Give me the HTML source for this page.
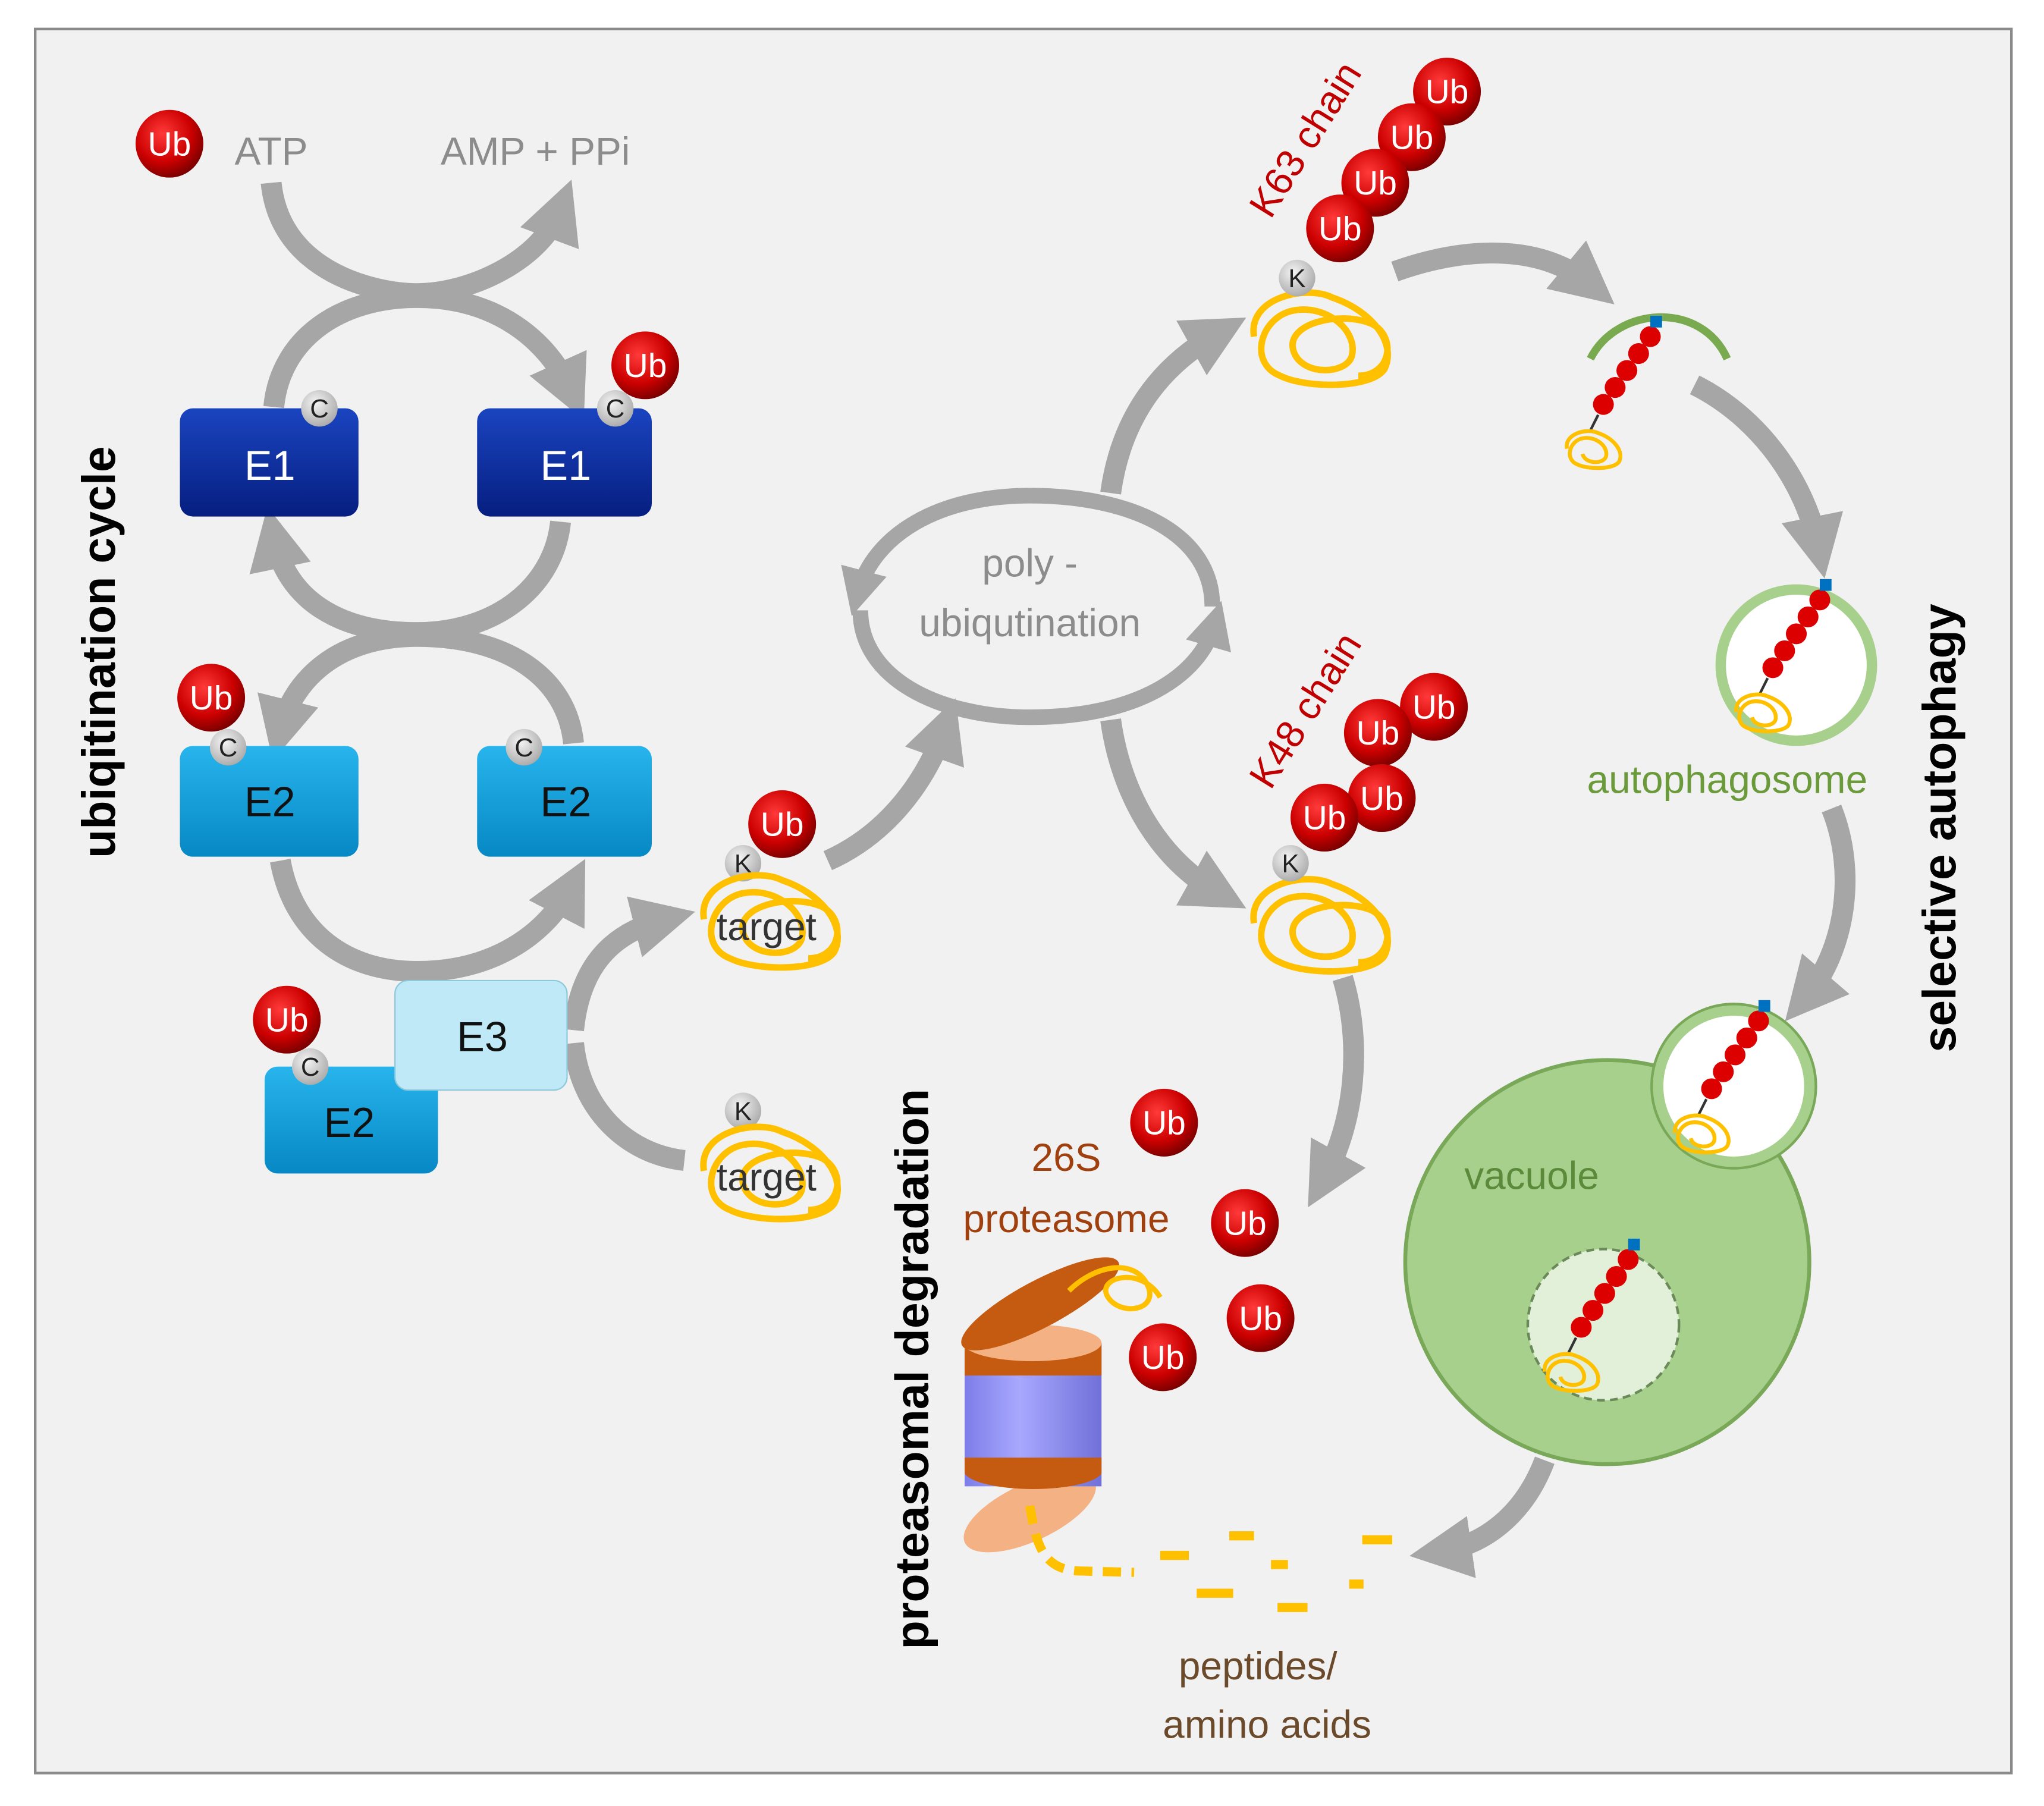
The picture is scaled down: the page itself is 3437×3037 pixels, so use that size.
<!DOCTYPE html>
<html><head><meta charset="utf-8"><style>
html,body{margin:0;padding:0;background:#fff;}
svg{display:block;}
text{font-family:"Liberation Sans","DejaVu Sans",sans-serif;}
</style></head><body>
<svg width="3437" height="3037" viewBox="0 0 1568 1385" xmlns="http://www.w3.org/2000/svg">
<defs>
<radialGradient id="ub" cx="0.4" cy="0.35" r="0.7"><stop offset="0" stop-color="#ff3a3a"/><stop offset="0.6" stop-color="#cc0000"/><stop offset="1" stop-color="#700000"/></radialGradient>
<radialGradient id="cg" cx="0.4" cy="0.35" r="0.7"><stop offset="0" stop-color="#f4f4f4"/><stop offset="1" stop-color="#a8a8a8"/></radialGradient>
<linearGradient id="e1" x1="0" y1="0" x2="0" y2="1"><stop offset="0" stop-color="#1a44c0"/><stop offset="1" stop-color="#061e80"/></linearGradient>
<linearGradient id="e2" x1="0" y1="0" x2="0" y2="1"><stop offset="0" stop-color="#28b4ec"/><stop offset="1" stop-color="#0688c4"/></linearGradient>
<linearGradient id="cyl" x1="0" y1="0" x2="1" y2="0"><stop offset="0" stop-color="#7d7de8"/><stop offset="0.4" stop-color="#a8a8ff"/><stop offset="1" stop-color="#7070d8"/></linearGradient>
<marker id="ah" viewBox="0 0 10 10" refX="5" refY="5" markerWidth="3" markerHeight="3" orient="auto"><path d="M0,0 L10,5 L0,10 z" fill="#a6a6a6"/></marker>
<g id="ubb"><circle r="26" fill="url(#ub)"/></g>
<g id="tgt" fill="none" stroke="#ffc000" stroke-width="5">
<path d="M-50,0 C-55,-30 -10,-40 10,-30 C40,-20 60,5 50,25 C40,40 -10,40 -30,30 C-55,20 -45,-15 -20,-20 C5,-25 30,-5 25,15 C20,30 -15,30 -20,10 C-25,-10 15,-20 40,-10 C60,0 55,30 30,30"/></g>
<g id="tgts" fill="none" stroke="#ffc000" stroke-width="3">
<path d="M-20,0 C-22,-12 -4,-16 4,-12 C16,-8 24,2 20,10 C16,16 -4,16 -12,12 C-22,8 -18,-6 -8,-8 C2,-10 12,-2 10,6 C8,12 -6,12 -8,4"/></g>
<g id="chain"><circle cx="0" cy="0" r="8" fill="#d00"/><circle cx="9" cy="-13" r="8" fill="#d00"/><circle cx="18" cy="-26" r="8" fill="#d00"/><circle cx="27" cy="-39" r="8" fill="#d00"/><circle cx="36" cy="-52" r="8" fill="#d00"/><rect x="36" y="-68" width="9" height="9" fill="#0070c0"/><line x1="-4" y1="8" x2="-10" y2="20" stroke="#333" stroke-width="2"/><use href="#tgts" x="-8" y="34"/></g>
</defs>
<rect x="27" y="22" width="1516" height="1338" fill="#f1f1f1" stroke="#8a8a8a" stroke-width="2"/>

<!-- ubiquitination cycle arrows -->
<g fill="none" stroke="#a6a6a6" stroke-width="16">
<path d="M208,140 C215,210 290,225 320,225 C360,225 415,200 430,160" marker-end="url(#ah)"/>
<path d="M210,312 C215,260 260,228 320,228 C380,228 420,260 438,300" marker-end="url(#ah)"/>
<path d="M430,400 C425,450 380,485 320,485 C260,485 220,460 210,412" marker-end="url(#ah)"/>
<path d="M440,570 C435,520 390,488 320,488 C260,488 225,520 215,560" marker-end="url(#ah)"/>
<path d="M215,660 C225,715 265,745 320,745 C380,745 420,715 438,680" marker-end="url(#ah)"/>
<path d="M440,790 C445,740 470,715 510,705" marker-end="url(#ah)"/>
<path d="M440,800 C445,850 480,885 525,890"/>
<path d="M635,660 C680,640 710,600 725,558" marker-end="url(#ah)"/>
<path d="M852,378 C860,320 890,280 935,255" marker-end="url(#ah)"/>
<path d="M852,552 C860,610 890,660 935,685" marker-end="url(#ah)"/>
<path d="M1070,208 C1120,190 1180,185 1220,218" marker-end="url(#ah)"/>
<path d="M1300,295 C1350,320 1385,370 1395,420" marker-end="url(#ah)"/>
<path d="M1405,620 C1425,670 1415,730 1385,765" marker-end="url(#ah)"/>
<path d="M1030,750 C1045,800 1040,860 1015,905" marker-end="url(#ah)"/>
<path d="M1185,1120 C1170,1160 1140,1185 1105,1190" marker-end="url(#ah)"/>
</g>
<!-- poly ring -->
<g fill="none" stroke="#a6a6a6" stroke-width="12">
<path d="M930,465 C930,410 870,380 790,380 C720,380 670,410 658,455" marker-end="url(#ah)"/>
<path d="M660,468 C660,520 720,550 790,550 C870,550 920,520 932,478" marker-end="url(#ah)"/>
</g>

<text x="180" y="126" font-size="30" fill="#8c8c8c">ATP</text>
<text x="338" y="126" font-size="30" fill="#8c8c8c">AMP + PPi</text>

<!-- enzymes -->
<rect x="138" y="313" width="137" height="83" rx="10" fill="url(#e1)"/>
<rect x="366" y="313" width="134" height="83" rx="10" fill="url(#e1)"/>
<text x="207" y="368" font-size="32" fill="#fff" text-anchor="middle">E1</text>
<text x="434" y="368" font-size="32" fill="#fff" text-anchor="middle">E1</text>
<rect x="138" y="572" width="137" height="85" rx="10" fill="url(#e2)"/>
<rect x="366" y="572" width="134" height="85" rx="10" fill="url(#e2)"/>
<text x="207" y="626" font-size="32" fill="#111" text-anchor="middle">E2</text>
<text x="434" y="626" font-size="32" fill="#111" text-anchor="middle">E2</text>
<rect x="203" y="818" width="133" height="82" rx="10" fill="url(#e2)"/>
<rect x="303" y="752" width="132" height="84" rx="10" fill="#bfe9f7" stroke="#8cc8dc"/>
<text x="370" y="806" font-size="32" fill="#111" text-anchor="middle">E3</text>
<text x="268" y="872" font-size="32" fill="#111" text-anchor="middle">E2</text>

<!-- C circles -->
<g font-size="20" fill="#222" text-anchor="middle">
<circle cx="245" cy="313" r="14" fill="url(#cg)"/><text x="245" y="320">C</text>
<circle cx="472" cy="313" r="14" fill="url(#cg)"/><text x="472" y="320">C</text>
<circle cx="175" cy="573" r="14" fill="url(#cg)"/><text x="175" y="580">C</text>
<circle cx="402" cy="573" r="14" fill="url(#cg)"/><text x="402" y="580">C</text>
<circle cx="238" cy="818" r="14" fill="url(#cg)"/><text x="238" y="825">C</text>
<circle cx="570" cy="662" r="14" fill="url(#cg)"/><text x="570" y="669">K</text>
<circle cx="570" cy="852" r="14" fill="url(#cg)"/><text x="570" y="859">K</text>
</g>

<!-- targets -->
<use href="#tgt" x="590" y="705"/>
<use href="#tgt" x="590" y="898"/>
<use href="#tgt" x="1012" y="258"/>
<use href="#tgt" x="1012" y="708"/>
<text x="588" y="721" font-size="30" fill="#333" text-anchor="middle">target</text>
<text x="588" y="913" font-size="30" fill="#333" text-anchor="middle">target</text>
<g font-size="20" fill="#222" text-anchor="middle">
<circle cx="995" cy="213" r="14" fill="url(#cg)"/><text x="995" y="220">K</text>
<circle cx="990" cy="662" r="14" fill="url(#cg)"/><text x="990" y="669">K</text>
</g>

<!-- Ub balls -->
<g font-size="26" fill="#fff" text-anchor="middle">
<use href="#ubb" x="130" y="110"/><text x="130" y="119">Ub</text>
<use href="#ubb" x="495" y="280"/><text x="495" y="289">Ub</text>
<use href="#ubb" x="162" y="535"/><text x="162" y="544">Ub</text>
<use href="#ubb" x="220" y="782"/><text x="220" y="791">Ub</text>
<use href="#ubb" x="600" y="632"/><text x="600" y="641">Ub</text>
<use href="#ubb" x="1110" y="70"/><text x="1110" y="79">Ub</text>
<use href="#ubb" x="1083" y="105"/><text x="1083" y="114">Ub</text>
<use href="#ubb" x="1055" y="140"/><text x="1055" y="149">Ub</text>
<use href="#ubb" x="1028" y="175"/><text x="1028" y="184">Ub</text>
<use href="#ubb" x="1100" y="542"/><text x="1100" y="551">Ub</text>
<use href="#ubb" x="1057" y="562"/><text x="1057" y="571">Ub</text>
<use href="#ubb" x="1060" y="612"/><text x="1060" y="621">Ub</text>
<use href="#ubb" x="1016" y="627"/><text x="1016" y="636">Ub</text>
<use href="#ubb" x="893" y="861"/><text x="893" y="870">Ub</text>
<use href="#ubb" x="955" y="938"/><text x="955" y="947">Ub</text>
<use href="#ubb" x="967" y="1011"/><text x="967" y="1020">Ub</text>
<use href="#ubb" x="892" y="1041"/><text x="892" y="1050">Ub</text>
</g>
<text x="1010" y="112" font-size="30" fill="#c00000" text-anchor="middle" transform="rotate(-58 1010 112)">K63 chain</text>
<text x="1010" y="550" font-size="30" fill="#c00000" text-anchor="middle" transform="rotate(-58 1010 550)">K48 chain</text>

<text x="790" y="442" font-size="30" fill="#8c8c8c" text-anchor="middle">poly -</text>
<text x="790" y="488" font-size="30" fill="#8c8c8c" text-anchor="middle">ubiqutination</text>

<!-- autophagy -->
<path d="M1220,275 C1240,235 1305,230 1325,275" fill="none" stroke="#7aaa50" stroke-width="6"/>
<use href="#chain" x="1230" y="310"/>
<circle cx="1378" cy="510" r="62" fill="#a8d08d"/>
<circle cx="1378" cy="510" r="54" fill="#fff"/>
<use href="#chain" x="1360" y="512"/>
<text x="1325" y="608" font-size="30" fill="#6a9a3a" text-anchor="middle">autophagosome</text>
<circle cx="1233" cy="968" r="155" fill="#a8d08d" stroke="#78a858" stroke-width="3"/>
<circle cx="1330" cy="833" r="63" fill="#a8d08d" stroke="#78a858" stroke-width="2"/>
<circle cx="1330" cy="833" r="54" fill="#fff"/>
<use href="#chain" x="1313" y="835"/>
<circle cx="1230" cy="1016" r="58" fill="#e2efd9" stroke="#6a8a5a" stroke-width="2" stroke-dasharray="6,4"/>
<use href="#chain" x="1213" y="1018"/>
<text x="1175" y="912" font-size="30" fill="#5a8a3a" text-anchor="middle">vacuole</text>

<!-- proteasome -->
<ellipse cx="790" cy="1160" rx="55" ry="22" fill="#f4b183" transform="rotate(-25 790 1160)"/>
<rect x="740" y="1030" width="105" height="110" fill="url(#cyl)"/>
<rect x="740" y="1030" width="105" height="25" fill="#c55a11"/>
<ellipse cx="792" cy="1030" rx="53" ry="14" fill="#f4b183"/>
<path d="M740,1118 L845,1118 L845,1130 A53,14 0 0 1 740,1130 z" fill="#c55a11"/>
<ellipse cx="798" cy="1000" rx="68" ry="18" fill="#c55a11" transform="rotate(-28 798 1000)"/>
<path d="M820,990 C840,970 870,965 880,985 C890,1005 860,1010 850,995 C840,980 875,970 890,995" fill="none" stroke="#ffc000" stroke-width="4"/>
<text x="818" y="898" font-size="30" fill="#a0400f" text-anchor="middle">26S</text>
<text x="818" y="945" font-size="30" fill="#a0400f" text-anchor="middle">proteasome</text>
<g fill="none" stroke="#ffc000" stroke-width="7">
<path d="M790,1155 C795,1185 800,1205 830,1205 L870,1206" stroke-dasharray="14,8"/>
<line x1="890" y1="1193" x2="912" y2="1193"/><line x1="943" y1="1178" x2="962" y2="1178"/>
<line x1="975" y1="1200" x2="988" y2="1200"/><line x1="1045" y1="1181" x2="1068" y2="1181"/>
<line x1="918" y1="1222" x2="946" y2="1222"/><line x1="980" y1="1233" x2="1003" y2="1233"/>
<line x1="1035" y1="1215" x2="1046" y2="1215"/>
</g>
<text x="965" y="1288" font-size="30" fill="#6a4a2a" text-anchor="middle">peptides/</text>
<text x="972" y="1333" font-size="30" fill="#6a4a2a" text-anchor="middle">amino acids</text>

<!-- vertical titles -->
<text x="88" y="500" font-size="36" font-weight="bold" fill="#000" text-anchor="middle" transform="rotate(-90 88 500)">ubiqitination cycle</text>
<text x="712" y="1050" font-size="36" font-weight="bold" fill="#000" text-anchor="middle" transform="rotate(-90 712 1050)">proteasomal degradation</text>
<text x="1500" y="635" font-size="36" font-weight="bold" fill="#000" text-anchor="middle" transform="rotate(-90 1500 635)">selective autophagy</text>
</svg>
</body></html>
